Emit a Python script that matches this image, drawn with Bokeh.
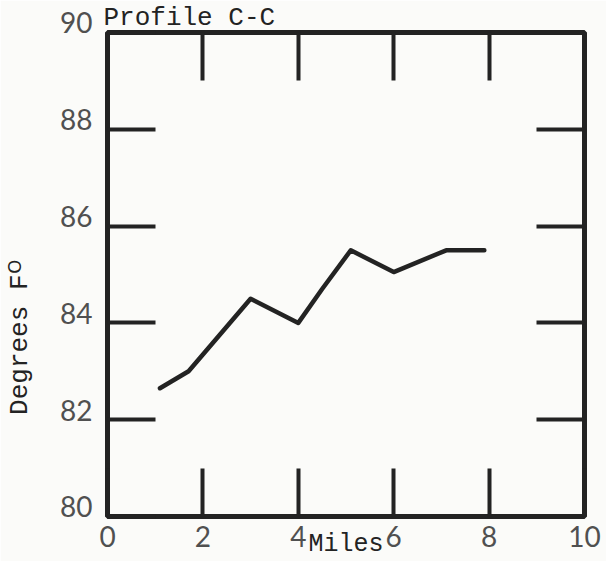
from bokeh.plotting import figure
from bokeh.models import Range1d, LinearAxis, FixedTicker
from bokeh.embed import file_html
from bokeh.resources import INLINE

# Data
miles = [1.1, 1.7, 3.0, 4.0, 4.5, 5.1, 6.0, 7.1, 7.9]
degrees = [82.65, 83.0, 84.5, 84.0, 84.7, 85.5, 85.05, 85.5, 85.5]

x_ticks = [0, 2, 4, 6, 8, 10]
y_ticks = [80, 82, 84, 86, 88, 90]
inner_x_ticks = [2, 4, 6, 8]
inner_y_ticks = [82, 84, 86, 88]

title_text = "Profile C-C"
x_label = "Miles"
y_label = "Degrees F\u1d3c"

INK = "#232323"
PAPER = "#fbfbf9"
NUM_FONT = "Lato"
TYPE_FONT = "Liberation Mono"

p = figure(width=606, height=561, output_backend="svg", toolbar_location=None,
           x_range=Range1d(0, 10), y_range=Range1d(80, 90),
           x_axis_location=None, y_axis_location=None,
           min_border_left=107, min_border_right=22, min_border_top=31, min_border_bottom=44)
p.background_fill_color = PAPER
p.border_fill_color = PAPER
p.outline_line_color = INK
p.outline_line_width = 5
p.xgrid.visible = False
p.ygrid.visible = False

p.title.text = title_text
p.title.text_font = TYPE_FONT
p.title.text_font_size = "26px"
p.title.text_font_style = "normal"
p.title.text_color = INK
p.title.align = "left"
p.title.offset = -4
p.title.standoff = 0

def style_axis(ax, show_labels):
    ax.axis_line_color = None
    ax.major_tick_in = 48
    ax.major_tick_out = 0
    ax.major_tick_line_width = 4
    ax.major_tick_line_color = INK
    ax.minor_tick_line_color = None
    if show_labels:
        ax.major_label_text_font = NUM_FONT
        ax.major_label_text_font_size = "28px"
        ax.major_label_text_color = "#505050"
    else:
        ax.major_label_text_alpha = 0
        ax.major_label_text_font_size = "0px"
        ax.major_label_standoff = 0

left = LinearAxis(ticker=FixedTicker(ticks=y_ticks))
style_axis(left, True)
left.major_label_standoff = 15
# the numbers sit just above their tick marks
left.major_label_overrides = {t: f"{t}\n" for t in y_ticks}
left.major_label_text_line_height = 0.6
left.axis_label = y_label + "\u00a0" * 8
left.axis_label_text_font = TYPE_FONT
left.axis_label_text_font_size = "26px"
left.axis_label_text_font_style = "normal"
left.axis_label_text_color = INK
left.axis_label_standoff = 22
p.add_layout(left, "left")

bottom = LinearAxis(ticker=FixedTicker(ticks=x_ticks))
style_axis(bottom, True)
bottom.major_label_standoff = 9
bottom.axis_label = x_label
bottom.axis_label_text_font = TYPE_FONT
bottom.axis_label_text_font_size = "25px"
bottom.axis_label_text_font_style = "normal"
bottom.axis_label_text_color = INK
bottom.axis_label_standoff = -20
p.add_layout(bottom, "below")

top = LinearAxis(ticker=FixedTicker(ticks=inner_x_ticks))
style_axis(top, False)
p.add_layout(top, "above")

right = LinearAxis(ticker=FixedTicker(ticks=inner_y_ticks))
style_axis(right, False)
p.add_layout(right, "right")

p.line(miles, degrees, line_color=INK, line_width=4.5, line_join="round", line_cap="round")

open("out.html", "w").write(file_html(p, INLINE))
